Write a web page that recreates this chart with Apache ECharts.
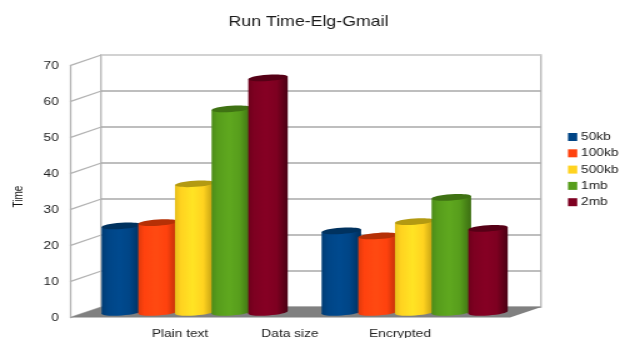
<!DOCTYPE html>
<html>
<head>
<meta charset="utf-8">
<title>Run Time-Elg-Gmail</title>
<script src="https://cdn.jsdelivr.net/npm/echarts@6/dist/echarts.min.js"></script>
<style>
  html, body { margin: 0; padding: 0; background: #fff; overflow: hidden; }
  /* the reference is a wider-than-drawn screenshot, so the chart is stretched sideways */
  #chart { width: 504px; height: 338px; transform: scaleX(1.25); transform-origin: 0 0; }
</style>
</head>
<body>
<div id="chart"></div>
<script>
var categories = ["Plain text", "Encrypted"];
var seriesNames = ["50kb", "100kb", "500kb", "1mb", "2mb"];
var values50kb = [24, 22.6];
var values100kb = [24.9, 21.2];
var values500kb = [35.7, 25.2];
var values1mb = [56.5, 31.9];
var values2mb = [65.1, 23.3];
var yTicks = [0, 10, 20, 30, 40, 50, 60, 70];

var seriesValues = [values50kb, values100kb, values500kb, values1mb, values2mb];
var colors = ["#004586", "#ff420e", "#ffd320", "#579d1c", "#7e0021"];
var lightColors = ["#004a8f", "#ff4a12", "#ffe424", "#5fa81f", "#860024"];
var leftColors = ["#003c74", "#e03a0c", "#e6be1c", "#4d8c19", "#6e001c"];
var sideColors = ["#002f5c", "#b83008", "#b89810", "#3c6e12", "#4a0013"];
var topColors = ["#00325f", "#b53006", "#b39a12", "#3f7213", "#560016"];

// depth of the fake 3d box, in chart px
var depthX = 25;
var depthY = 10.6;
var barRx = 15.8;
var barRy = 3.1;
var barTilt = 0.085;

function bodyFill(i) {
  return new echarts.graphic.LinearGradient(0, 0, 1, 0, [
    { offset: 0, color: leftColors[i] },
    { offset: 0.15, color: colors[i] },
    { offset: 0.45, color: lightColors[i] },
    { offset: 0.72, color: colors[i] },
    { offset: 1, color: sideColors[i] }
  ]);
}

function renderBar(i) {
  return function (params, api) {
    var cat = api.value(0);
    var top = api.coord([cat, api.value(1)]);
    var base = api.coord([cat, 0]);
    var step = api.size([1, 0])[0] / 6;
    var cx = top[0] + (i - 2) * step + depthX * 0.47;
    var topY = top[1] - depthY / 2;
    var baseY = base[1] - depthY / 2;
    var tx = barRx * Math.sin(barTilt);
    var fill = bodyFill(i);
    return {
      type: "group",
      children: [
        {
          type: "ellipse",
          shape: { cx: cx, cy: baseY, rx: barRx, ry: barRy },
          originX: cx, originY: baseY, rotation: barTilt,
          style: { fill: fill }
        },
        {
          type: "polygon",
          shape: {
            points: [
              [cx - barRx, topY + tx], [cx + barRx, topY - tx],
              [cx + barRx, baseY - tx], [cx - barRx, baseY + tx]
            ]
          },
          style: { fill: fill }
        },
        {
          type: "ellipse",
          shape: { cx: cx, cy: topY, rx: barRx, ry: barRy },
          originX: cx, originY: topY, rotation: barTilt,
          style: { fill: topColors[i] }
        }
      ]
    };
  };
}

// slanted lines of the left wall, one for each tick
function renderSideTick(params, api) {
  var p = api.coord([0, api.value(0)]);
  var x = params.coordSys.x;
  return {
    type: "line",
    shape: { x1: x, y1: p[1], x2: x + depthX, y2: p[1] - depthY },
    style: { stroke: "#b3b3b3", lineWidth: 1.3 }
  };
}

function renderFloor(params, api) {
  var c = params.coordSys;
  var y = api.coord([0, 0])[1];
  return {
    type: "polygon",
    shape: {
      points: [
        [c.x, y], [c.x + depthX, y - depthY],
        [c.x + c.width + depthX, y - depthY], [c.x + c.width, y]
      ]
    },
    style: { fill: "#808080" }
  };
}

var series = [
  {
    type: "custom",
    xAxisIndex: 0, yAxisIndex: 0,
    silent: true,
    clip: false,
    renderItem: renderSideTick,
    data: yTicks.map(function (t) { return [t]; }),
    encode: { y: 0 }
  },
  {
    type: "custom",
    xAxisIndex: 0, yAxisIndex: 0,
    silent: true,
    clip: false,
    renderItem: renderFloor,
    data: [[0]],
    encode: { y: 0 }
  }
];

seriesNames.forEach(function (name, i) {
  series.push({
    name: name,
    type: "custom",
    xAxisIndex: 0, yAxisIndex: 0,
    clip: false,
    itemStyle: { color: colors[i] },
    renderItem: renderBar(i),
    data: seriesValues[i].map(function (v, c) { return [c, v]; }),
    encode: { x: 0, y: 1 }
  });
});

var chart = echarts.init(document.getElementById("chart"));
chart.setOption({
  animation: false,
  backgroundColor: "#fff",
  textStyle: { fontFamily: "Liberation Sans" },
  title: {
    text: "Run Time-Elg-Gmail",
    left: 241.8,
    top: 10,
    textAlign: "center",
    textStyle: { fontFamily: "Liberation Sans", fontSize: 14.2, fontWeight: "normal", color: "#1a1a1a" }
  },
  legend: {
    orient: "vertical",
    left: 454.4,
    top: 131.5,
    itemWidth: 7.4,
    itemHeight: 8,
    itemGap: 5.3,
    padding: 0,
    icon: "rect",
    data: seriesNames,
    textStyle: { fontFamily: "Liberation Sans", fontSize: 11, color: "#222", padding: [0, 0, 0, -2] }
  },
  grid: [
    { left: 56, width: 352, top: 65.6, height: 252, outerBoundsMode: "none" },
    { left: 80.8, width: 352, top: 55, height: 252, show: true, borderColor: "#b3b3b3", borderWidth: 1.3, outerBoundsMode: "none" }
  ],
  xAxis: [
    {
      gridIndex: 0,
      type: "category",
      data: categories,
      axisLine: { show: false },
      axisTick: { show: false },
      axisLabel: { color: "#222", fontSize: 11, margin: 11 },
      name: "Data size",
      nameLocation: "middle",
      nameGap: 11,
      nameMoveOverlap: false,
      nameTextStyle: { color: "#222", fontSize: 11 }
    },
    { gridIndex: 1, type: "category", data: categories, show: false }
  ],
  yAxis: [
    {
      gridIndex: 0,
      type: "value",
      min: 0,
      max: 70,
      interval: 10,
      splitLine: { show: false },
      axisTick: { show: false },
      axisLine: { show: true, lineStyle: { color: "#b3b3b3", width: 1.3 } },
      axisLabel: { color: "#222", fontSize: 11, margin: 9, padding: [4, 0, 0, 0] },
      name: "Time",
      nameLocation: "middle",
      nameGap: 35.5,
      nameMoveOverlap: false,
      nameTextStyle: { color: "#111", fontSize: 10, padding: [0, 10, 0, 0] }
    },
    {
      gridIndex: 1,
      type: "value",
      min: 0,
      max: 70,
      interval: 10,
      axisLine: { show: false },
      axisTick: { show: false },
      axisLabel: { show: false },
      splitLine: {
        show: true,
        lineStyle: {
          width: 1.6,
          color: ["#a9a9a9", "#a9a9a9", "#a9a9a9", "#a9a9a9", "#a9a9a9", "#a9a9a9", "#a9a9a9", "#d6d6d6"]
        }
      }
    }
  ],
  series: series
});
</script>
</body>
</html>
